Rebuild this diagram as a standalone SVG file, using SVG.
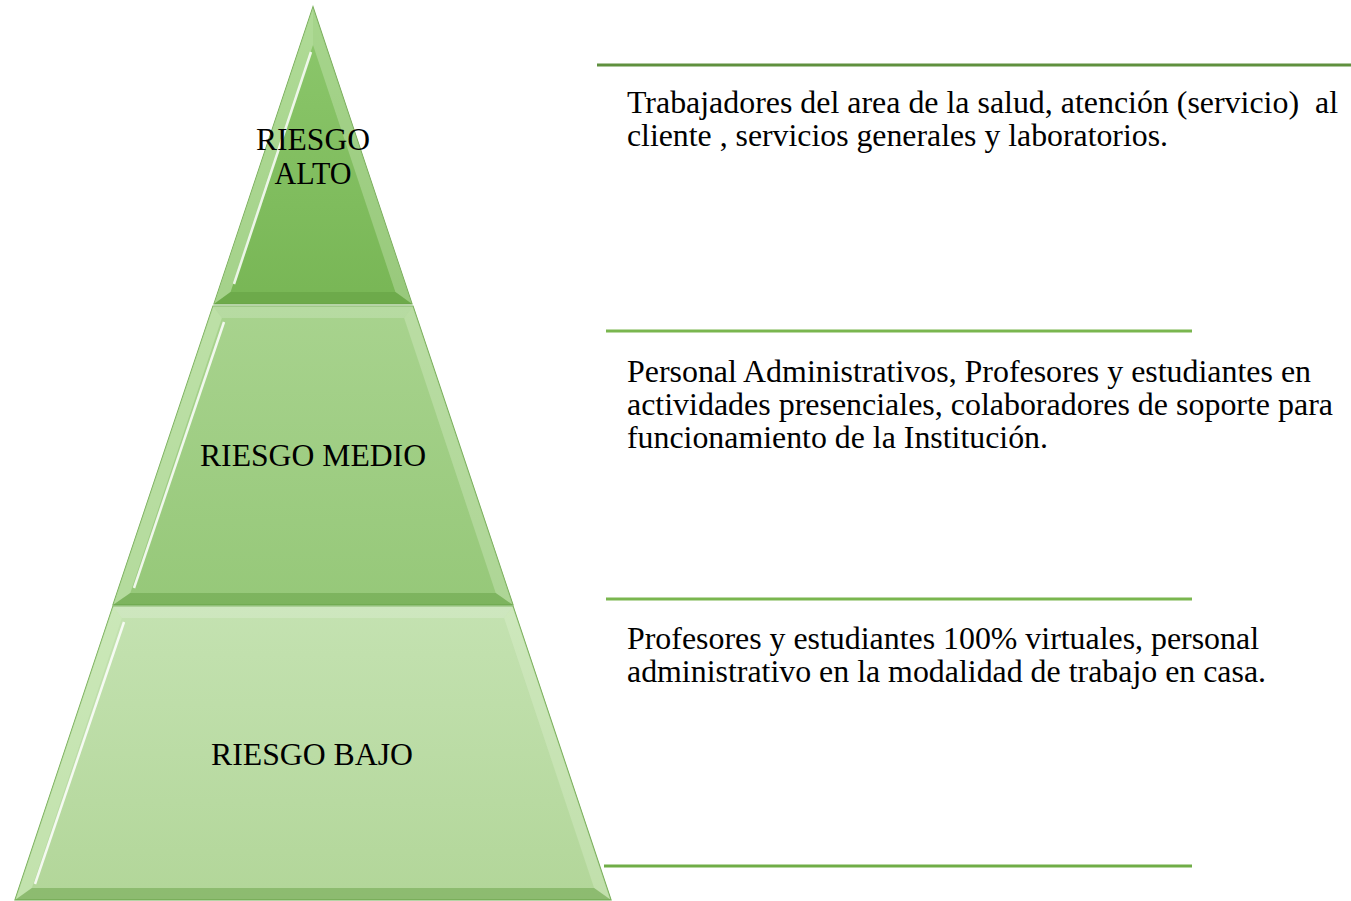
<svg xmlns="http://www.w3.org/2000/svg" width="1351" height="901" viewBox="0 0 1351 901">
<defs>
<linearGradient id="gTop" x1="0" y1="0" x2="0" y2="1"><stop offset="0" stop-color="#8dc86d"/><stop offset="1" stop-color="#78b655"/></linearGradient>
<linearGradient id="gMid" x1="0" y1="0" x2="0" y2="1"><stop offset="0" stop-color="#a8d38e"/><stop offset="1" stop-color="#96c879"/></linearGradient>
<linearGradient id="gBot" x1="0" y1="0" x2="0" y2="1"><stop offset="0" stop-color="#c4e2b1"/><stop offset="1" stop-color="#b2d699"/></linearGradient>
<style>
.edge{stroke:#6fa94e;stroke-width:1.2}
.hl{fill:#d2eec0;opacity:0.5}
.hr{fill:#e4f5d8;opacity:0.3}
.hb{fill:#5f9c3f;opacity:0.45}
.ht{fill:#ffffff;opacity:0.18}
.shine{stroke:#ffffff;stroke-width:2.5;opacity:0.85;fill:none}
.lbl{font-family:'Liberation Serif','Times New Roman',serif;font-size:32px;fill:#000;text-anchor:middle}
.txt{font-family:'Liberation Serif','Times New Roman',serif;font-size:31px;fill:#000}
.rule{stroke-width:3;fill:none}
</style>
</defs>
<rect width="1351" height="901" fill="#ffffff"/>

<g id="nivel-alto">
<polygon points="313,7 412,304 214,304" fill="url(#gTop)" class="edge"/>
<polygon class="hl" points="313,7 214,304 230.6,292 313,45"/>
<polygon class="hr" points="313,7 412,304 395.4,292 313,45"/>
<polygon class="hb" points="214,304 412,304 395.4,292 230.6,292"/>
<line class="shine" x1="311" y1="52" x2="234" y2="284"/>
<text class="lbl" x="313" y="150" textLength="114" lengthAdjust="spacingAndGlyphs">RIESGO</text>
<text class="lbl" x="313" y="184" textLength="77" lengthAdjust="spacingAndGlyphs">ALTO</text>
</g>

<g id="nivel-medio">
<polygon points="213,306 413,306 513,605 113,605" fill="url(#gMid)" class="edge"/>
<polygon class="hl" points="213,306 113,605 130.3,593 221.9,318"/>
<polygon class="hr" points="413,306 513,605 495.7,593 404.1,318"/>
<polygon class="ht" points="213,306 413,306 404.1,318 221.9,318"/>
<polygon class="hb" points="113,605 513,605 495.7,593 130.3,593"/>
<line class="shine" x1="224" y1="322" x2="134" y2="588"/>
<text class="lbl" x="313" y="466" textLength="226" lengthAdjust="spacingAndGlyphs">RIESGO MEDIO</text>
</g>

<g id="nivel-bajo">
<polygon points="113,606 513,606 611,900 15,900" fill="url(#gBot)" class="edge"/>
<polygon class="hl" points="113,606 15,900 31.9,888 121.9,618"/>
<polygon class="hr" points="513,606 611,900 594.1,888 504.1,618"/>
<polygon class="ht" points="113,606 513,606 504.1,618 121.9,618"/>
<polygon class="hb" points="15,900 611,900 594.1,888 31.9,888"/>
<line class="shine" x1="124" y1="622" x2="35" y2="884"/>
<text class="lbl" x="312" y="765" textLength="202" lengthAdjust="spacingAndGlyphs">RIESGO BAJO</text>
</g>

<g id="conectores">
<line class="rule" x1="597" y1="65" x2="1351" y2="65" stroke="#5f903e"/>
<line class="rule" x1="606" y1="331" x2="1192" y2="331" stroke="#7ab64f"/>
<line class="rule" x1="606" y1="599" x2="1192" y2="599" stroke="#7ab64f"/>
<line class="rule" x1="604" y1="866" x2="1192" y2="866" stroke="#70ad47"/>
</g>

<g id="texto-alto">
<text class="txt" x="627" y="113" textLength="711" lengthAdjust="spacingAndGlyphs" xml:space="preserve">Trabajadores del area de la salud, atención (servicio)  al</text>
<text class="txt" x="627" y="146" textLength="541" lengthAdjust="spacingAndGlyphs">cliente , servicios generales y laboratorios.</text>
</g>
<g id="texto-medio">
<text class="txt" x="627" y="382" textLength="684" lengthAdjust="spacingAndGlyphs">Personal Administrativos, Profesores y estudiantes en</text>
<text class="txt" x="627" y="415" textLength="706" lengthAdjust="spacingAndGlyphs">actividades presenciales, colaboradores de soporte para</text>
<text class="txt" x="627" y="448" textLength="421" lengthAdjust="spacingAndGlyphs">funcionamiento de la Institución.</text>
</g>
<g id="texto-bajo">
<text class="txt" x="627" y="649" textLength="632" lengthAdjust="spacingAndGlyphs">Profesores y estudiantes 100% virtuales, personal</text>
<text class="txt" x="627" y="682" textLength="639" lengthAdjust="spacingAndGlyphs">administrativo en la modalidad de trabajo en casa.</text>
</g>
</svg>
